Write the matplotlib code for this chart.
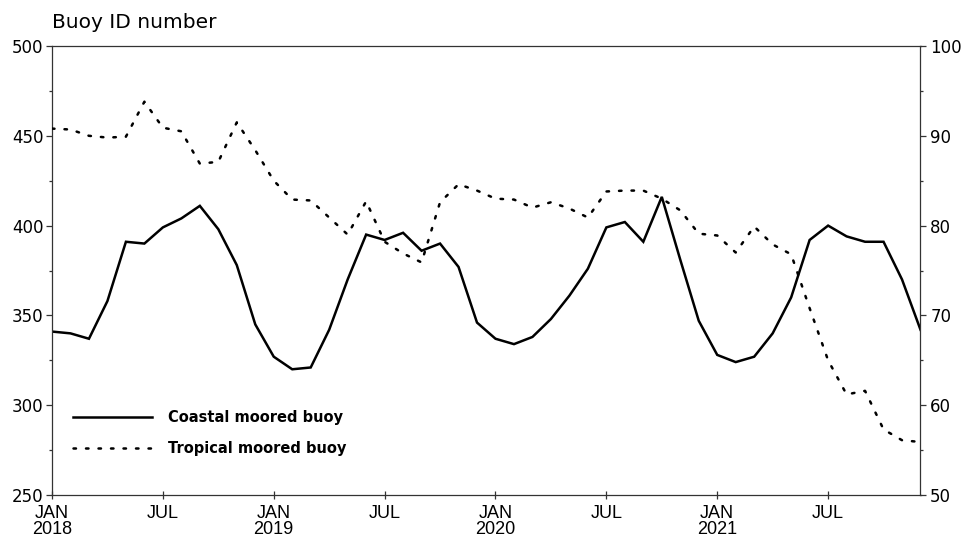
import matplotlib
matplotlib.use("Agg")
import matplotlib.pyplot as plt
from matplotlib.ticker import MultipleLocator, FixedLocator
import numpy as np

# Monthly data, Jan 2018 .. Dec 2021
months = np.arange(48)
coastal = [341, 340, 337, 358, 391, 390, 399, 404, 411, 398, 378, 345,
           327, 320, 321, 342, 370, 395, 392, 396, 386, 390, 377, 346,
           337, 334, 338, 348, 361, 376, 399, 402, 391, 416, 381, 347,
           328, 324, 327, 340, 360, 392, 400, 394, 391, 391, 370, 342]
tropical = [90.8, 90.7, 90.0, 89.8, 89.9, 93.8, 90.9, 90.5, 86.9, 87.1, 91.5, 88.4,
            85.0, 82.9, 82.8, 80.9, 79.0, 82.7, 78.2, 76.9, 75.9, 82.6, 84.6, 83.9,
            83.0, 82.9, 82.0, 82.6, 81.9, 80.9, 83.8, 83.9, 83.9, 83.0, 81.7, 79.1,
            78.9, 77.0, 79.9, 77.9, 76.8, 70.8, 65.0, 61.2, 61.6, 57.3, 56.1, 55.9]
tick_pos = [0, 6, 12, 18, 24, 30, 36, 42]
tick_labels = ["JAN\n2018", "JUL", "JAN\n2019", "JUL", "JAN\n2020", "JUL",
               "JAN\n2021", "JUL"]
series_names = ["Coastal moored buoy", "Tropical moored buoy"]
title = "Buoy ID number"

fig = plt.figure(figsize=(9.69, 5.39), dpi=100)
ax = fig.add_axes([52/969, 1-495/539, (920.5-52)/969, (495-46)/539])
ax2 = ax.twinx()

l1, = ax.plot(months, coastal, color="black", lw=1.8, solid_joinstyle="miter")
l2, = ax2.plot(months, tropical, color="black", lw=1.8, linestyle=(0, (1, 4)),
               dash_capstyle="round")

ax.set_xlim(0, 47)
ax.set_ylim(250, 500)
ax2.set_ylim(50, 100)
ax.yaxis.set_major_locator(MultipleLocator(50))
ax.yaxis.set_minor_locator(MultipleLocator(25))
ax2.yaxis.set_major_locator(MultipleLocator(10))
ax2.yaxis.set_minor_locator(MultipleLocator(5))

ax.xaxis.set_major_locator(FixedLocator(tick_pos))
ax.set_xticklabels(tick_labels, family=["Liberation Sans Narrow", "Liberation Sans"],
                   fontsize=13, linespacing=0.95)

spine_color = "#333333"
for s in ax.spines.values():
    s.set_linewidth(0.9)
    s.set_color(spine_color)
for name, s in ax2.spines.items():
    if name == "right":
        s.set_linewidth(0.9)
        s.set_color(spine_color)
    else:
        s.set_visible(False)
ax.spines["right"].set_visible(False)

ax.tick_params(axis="y", which="major", direction="out", length=4, width=0.9,
               labelsize=12, pad=2, color=spine_color)
ax.tick_params(axis="y", which="minor", direction="out", length=2.5, width=0.9,
               color=spine_color)
ax2.tick_params(axis="y", which="major", direction="out", length=4, width=0.9,
                labelsize=12, pad=3, color=spine_color)
ax2.tick_params(axis="y", which="minor", direction="out", length=2.5, width=0.9,
                color=spine_color)
ax.tick_params(axis="x", which="major", direction="inout", length=6, width=0.9,
               pad=4, color=spine_color)

fig.text(52/969, 1-28/539, title, fontsize=14.5, ha="left", va="baseline")

leg = fig.legend([l1, l2], series_names, loc="center left",
                 bbox_to_anchor=(73/969, 1-433/539), frameon=False,
                 borderpad=0, borderaxespad=0, handlelength=5.4,
                 handletextpad=1.1, labelspacing=1.05,
                 prop={"weight": "bold", "size": 10.5})

fig.savefig("out.png", dpi=100)
